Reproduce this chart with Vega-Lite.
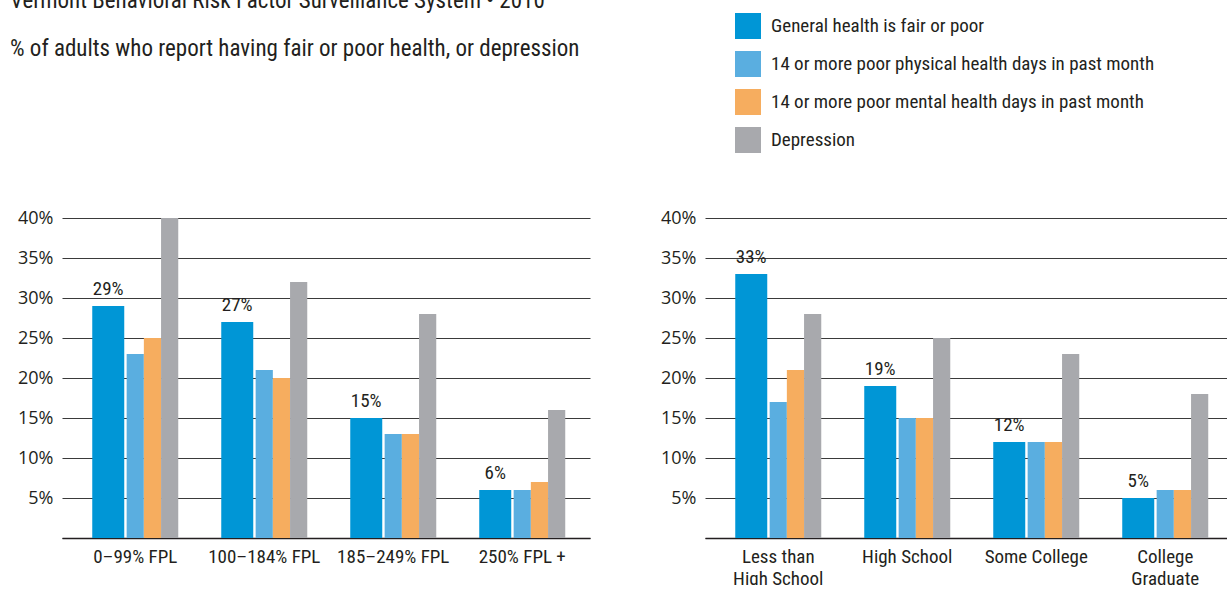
{
  "$schema": "https://vega.github.io/schema/vega-lite/v6.json",
  "background": "white",
  "padding": {"left": 10, "top": -10, "right": -6, "bottom": -3},
  "bounds": "flush",
  "spacing": 115,
  "datasets": {
    "income": [
      {"group": "0–99% FPL", "series": "General health is fair or poor", "value": 29},
      {"group": "0–99% FPL", "series": "14 or more poor physical health days in past month", "value": 23},
      {"group": "0–99% FPL", "series": "14 or more poor mental health days in past month", "value": 25},
      {"group": "0–99% FPL", "series": "Depression", "value": 40},
      {"group": "100–184% FPL", "series": "General health is fair or poor", "value": 27},
      {"group": "100–184% FPL", "series": "14 or more poor physical health days in past month", "value": 21},
      {"group": "100–184% FPL", "series": "14 or more poor mental health days in past month", "value": 20},
      {"group": "100–184% FPL", "series": "Depression", "value": 32},
      {"group": "185–249% FPL", "series": "General health is fair or poor", "value": 15},
      {"group": "185–249% FPL", "series": "14 or more poor physical health days in past month", "value": 13},
      {"group": "185–249% FPL", "series": "14 or more poor mental health days in past month", "value": 13},
      {"group": "185–249% FPL", "series": "Depression", "value": 28},
      {"group": "250% FPL +", "series": "General health is fair or poor", "value": 6},
      {"group": "250% FPL +", "series": "14 or more poor physical health days in past month", "value": 6},
      {"group": "250% FPL +", "series": "14 or more poor mental health days in past month", "value": 7},
      {"group": "250% FPL +", "series": "Depression", "value": 16}
    ],
    "education": [
      {"group": "Less than High School", "series": "General health is fair or poor", "value": 33},
      {"group": "Less than High School", "series": "14 or more poor physical health days in past month", "value": 17},
      {"group": "Less than High School", "series": "14 or more poor mental health days in past month", "value": 21},
      {"group": "Less than High School", "series": "Depression", "value": 28},
      {"group": "High School", "series": "General health is fair or poor", "value": 19},
      {"group": "High School", "series": "14 or more poor physical health days in past month", "value": 15},
      {"group": "High School", "series": "14 or more poor mental health days in past month", "value": 15},
      {"group": "High School", "series": "Depression", "value": 25},
      {"group": "Some College", "series": "General health is fair or poor", "value": 12},
      {"group": "Some College", "series": "14 or more poor physical health days in past month", "value": 12},
      {"group": "Some College", "series": "14 or more poor mental health days in past month", "value": 12},
      {"group": "Some College", "series": "Depression", "value": 23},
      {"group": "College Graduate", "series": "General health is fair or poor", "value": 5},
      {"group": "College Graduate", "series": "14 or more poor physical health days in past month", "value": 6},
      {"group": "College Graduate", "series": "14 or more poor mental health days in past month", "value": 6},
      {"group": "College Graduate", "series": "Depression", "value": 18}
    ]
  },
  "hconcat": [
    {
      "width": 528,
      "height": 320,
      "data": {"name": "income"},
      "title": {
        "text": "Vermont Behavioral Risk Factor Surveillance System • 2010",
        "subtitle": "% of adults who report having fair or poor health, or depression",
        "anchor": "start",
        "frame": "group",
        "dx": -52,
        "offset": 148,
        "fontSize": 23,
        "fontWeight": "normal",
        "font": "Liberation Sans Narrow, Roboto Condensed, DejaVu Sans Condensed, sans-serif",
        "subtitleFont": "Liberation Sans Narrow, Roboto Condensed, DejaVu Sans Condensed, sans-serif",
        "subtitleFontSize": 23,
        "subtitlePadding": 25,
        "color": "#231f20",
        "subtitleColor": "#231f20"
      },
      "encoding": {
        "x": {
          "field": "group", "type": "nominal", "sort": null, "title": null,
          "scale": {"paddingInner": 0.3333, "paddingOuter": 0.2132, "align": 0.55}
        },
        "y": {
          "field": "value", "type": "quantitative", "title": null,
          "scale": {"domain": [0, 40], "nice": false}
        }
      },
      "layer": [
        {
          "transform": [{"filter": "datum.series == 'General health is fair or poor'"}],
          "encoding": {
            "xOffset": {
              "field": "series", "type": "nominal",
              "scale": {"domain": ["General health is fair or poor"], "paddingInner": 0, "paddingOuter": 0.84375, "align": 0}
            }
          },
          "layer": [
            {
              "mark": {"type": "bar"},
              "encoding": {"color": {"field": "series", "type": "nominal",
                "scale": {"domain": ["General health is fair or poor", "14 or more poor physical health days in past month", "14 or more poor mental health days in past month", "Depression"], "range": ["#0096d6", "#5aaee0", "#f6ad5f", "#a8a9ad"]}}}
            },
            {
              "transform": [{"calculate": "datum.value + '%'", "as": "label"}],
              "mark": {"type": "text", "baseline": "bottom", "dy": -7, "fontSize": 19, "font": "Liberation Sans Narrow, Roboto Condensed, DejaVu Sans Condensed, sans-serif", "color": "#231f20"},
              "encoding": {"text": {"field": "label", "type": "nominal"}}
            }
          ]
        },
        {
          "transform": [{"filter": "datum.series != 'General health is fair or poor'"}],
          "mark": {"type": "bar"},
          "encoding": {
            "xOffset": {
              "field": "series", "type": "nominal",
              "scale": {"domain": ["14 or more poor physical health days in past month", "14 or more poor mental health days in past month", "Depression"], "paddingInner": 0, "paddingOuter": 1.1875, "align": 1}
            },
            "color": {"field": "series", "type": "nominal",
              "scale": {"domain": ["General health is fair or poor", "14 or more poor physical health days in past month", "14 or more poor mental health days in past month", "Depression"], "range": ["#0096d6", "#5aaee0", "#f6ad5f", "#a8a9ad"]}}
          }
        }
      ],
      "resolve": {"scale": {"xOffset": "independent"}}
    },
    {
      "width": 528,
      "height": 320,
      "data": {"name": "education"},
      "encoding": {
        "x": {
          "field": "group", "type": "nominal", "sort": null, "title": null,
          "scale": {"paddingInner": 0.3333, "paddingOuter": 0.2132, "align": 0.55},
          "axis": {"labelExpr": "datum.value == 'Less than High School' ? ['Less than', 'High School'] : datum.value == 'College Graduate' ? ['College', 'Graduate'] : datum.value"}
        },
        "y": {
          "field": "value", "type": "quantitative", "title": null,
          "scale": {"domain": [0, 40], "nice": false}
        }
      },
      "layer": [
        {
          "transform": [{"filter": "datum.series == 'General health is fair or poor'"}],
          "encoding": {
            "xOffset": {
              "field": "series", "type": "nominal",
              "scale": {"domain": ["General health is fair or poor"], "paddingInner": 0, "paddingOuter": 0.84375, "align": 0}
            }
          },
          "layer": [
            {
              "mark": {"type": "bar"},
              "encoding": {"color": {"field": "series", "type": "nominal",
                "scale": {"domain": ["General health is fair or poor", "14 or more poor physical health days in past month", "14 or more poor mental health days in past month", "Depression"], "range": ["#0096d6", "#5aaee0", "#f6ad5f", "#a8a9ad"]}}}
            },
            {
              "transform": [{"calculate": "datum.value + '%'", "as": "label"}],
              "mark": {"type": "text", "baseline": "bottom", "dy": -7, "fontSize": 19, "font": "Liberation Sans Narrow, Roboto Condensed, DejaVu Sans Condensed, sans-serif", "color": "#231f20"},
              "encoding": {"text": {"field": "label", "type": "nominal"}}
            }
          ]
        },
        {
          "transform": [{"filter": "datum.series != 'General health is fair or poor'"}],
          "mark": {"type": "bar"},
          "encoding": {
            "xOffset": {
              "field": "series", "type": "nominal",
              "scale": {"domain": ["14 or more poor physical health days in past month", "14 or more poor mental health days in past month", "Depression"], "paddingInner": 0, "paddingOuter": 1.1875, "align": 1}
            },
            "color": {"field": "series", "type": "nominal",
              "scale": {"domain": ["General health is fair or poor", "14 or more poor physical health days in past month", "14 or more poor mental health days in past month", "Depression"], "range": ["#0096d6", "#5aaee0", "#f6ad5f", "#a8a9ad"]}}
          }
        }
      ],
      "resolve": {"scale": {"xOffset": "independent"}}
    }
  ],
  "resolve": {"scale": {"x": "independent", "xOffset": "independent", "color": "shared"}, "legend": {"color": "shared"}},
  "config": {
    "view": {"stroke": null},
    "axisX": {
      "domain": true, "domainColor": "#231f20", "domainWidth": 1.5,
      "ticks": false, "labelAngle": 0, "labelPadding": 9,
      "labelFontSize": 19, "labelFont": "Liberation Sans Narrow, Roboto Condensed, DejaVu Sans Condensed, sans-serif",
      "labelColor": "#231f20", "labelLineHeight": 22, "grid": false
    },
    "axisY": {
      "domain": false, "ticks": false, "grid": true, "gridColor": "#3a3a3a", "gridWidth": 1,
      "values": [0, 5, 10, 15, 20, 25, 30, 35, 40],
      "labelExpr": "datum.value == 0 ? '' : datum.value + '%'",
      "labelPadding": 9, "labelFontSize": 18, "labelFont": "Open Sans, sans-serif", "labelColor": "#231f20",
      "minExtent": 50, "maxExtent": 50
    },
    "legend": {
      "orient": "none", "legendX": 673, "legendY": -205,
      "title": null, "symbolType": "square", "symbolSize": 676, "symbolStrokeWidth": 0,
      "symbolOpacity": 1, "symbolFillOpacity": 1,
      "labelFontSize": 19, "labelFont": "Liberation Sans Narrow, Roboto Condensed, DejaVu Sans Condensed, sans-serif",
      "labelColor": "#231f20", "labelOffset": 10, "rowPadding": 12, "labelLimit": 500
    }
  }
}
